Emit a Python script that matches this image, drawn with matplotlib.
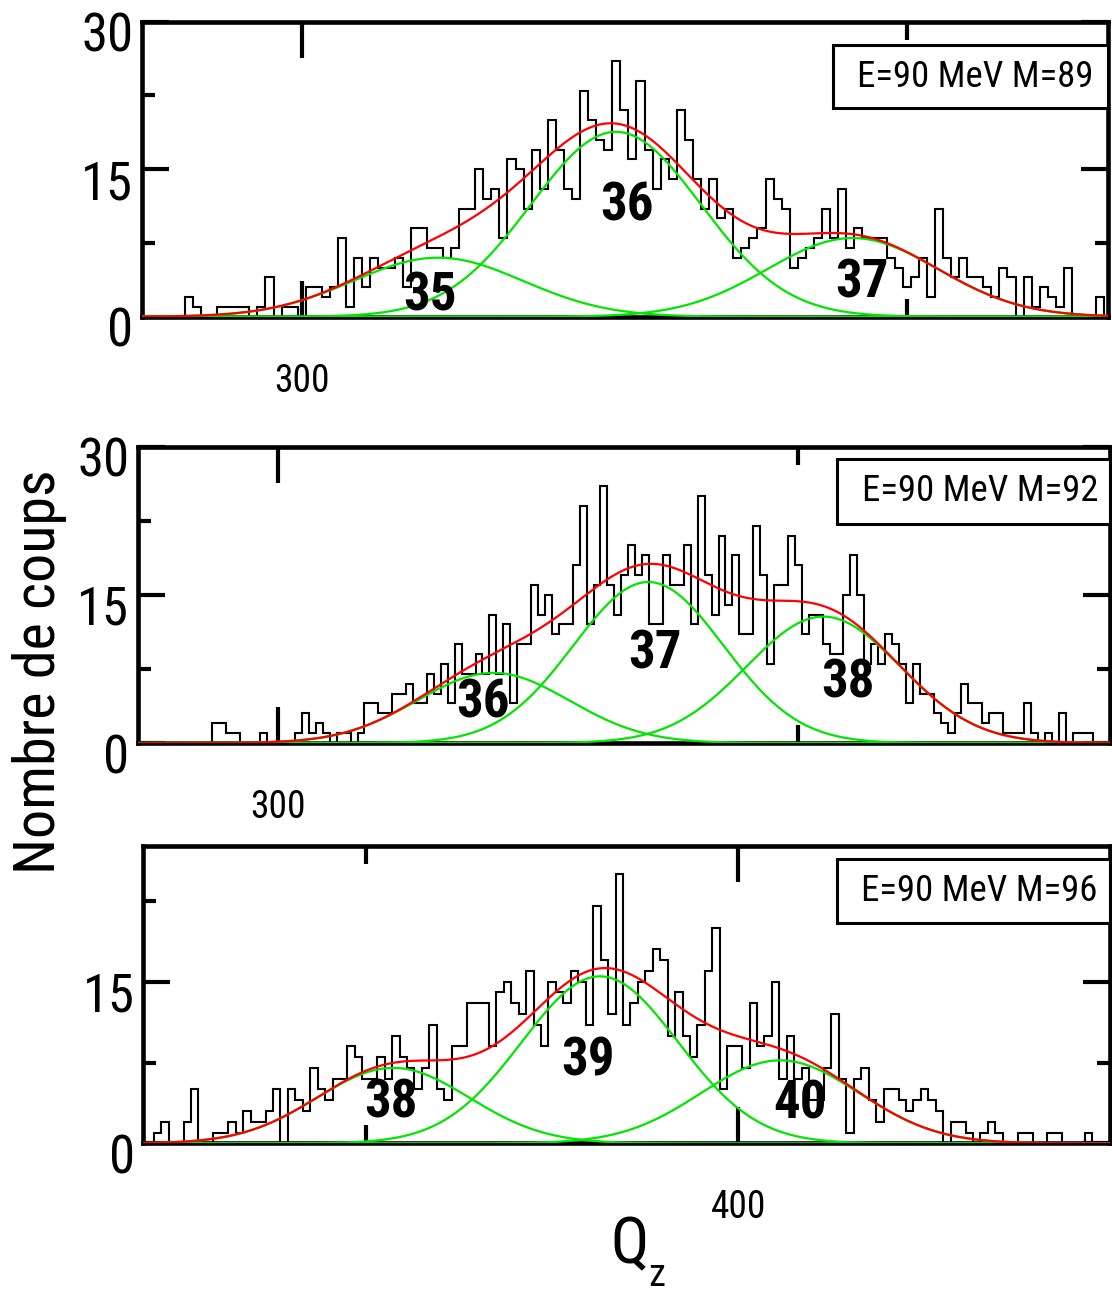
import matplotlib
matplotlib.use('Agg')
import matplotlib.pyplot as plt
import numpy as np
from matplotlib.ticker import MultipleLocator
import matplotlib.transforms as mtransforms
from matplotlib.patches import Rectangle
from matplotlib import font_manager as fm

# ---------------- data ----------------
bin_width = 2.0

p1_start = 271
p1_counts = [2, 1, 0, 0, 1, 1, 1, 1, 0, 1,
             4, 0, 1, 1, 0, 3, 3, 2, 3, 8,
             1, 6, 3, 6, 5, 5, 6, 3, 9, 9,
             7, 7, 6, 7, 11, 11, 15, 12, 13, 8,
             16, 15, 11, 17, 13, 20, 17, 13, 12, 23,
             20, 18, 17, 26, 21, 16, 24, 17, 13, 16,
             14, 21, 18, 14, 11, 14, 10, 11, 6, 7,
             8, 9, 14, 12, 11, 5, 6, 7, 8, 11,
             8, 13, 7, 9, 8, 8, 8, 6, 5, 3,
             4, 6, 2, 11, 6, 4, 6, 4, 4, 3,
             2, 5, 4, 0, 4, 1, 3, 2, 1, 5,
             0, 0, 0, 2]

p2_start = 281
p2_counts = [2, 2, 1, 1, 0, 0, 0, 1, 0, 0,
             0, 0, 1, 3, 1, 2, 1, 0, 1, 1,
             0, 1, 4, 4, 3, 3, 5, 5, 6, 4,
             4, 7, 5, 8, 4, 10, 7, 7, 9, 7,
             13, 7, 12, 4, 10, 10, 16, 13, 15, 11,
             12, 12, 18, 24, 12, 16, 26, 16, 13, 17,
             20, 17, 19, 12, 12, 19, 16, 16, 20, 12,
             25, 17, 13, 21, 14, 19, 11, 11, 22, 17,
             8, 16, 16, 21, 18, 11, 13, 13, 10, 9,
             9, 15, 19, 15, 8, 10, 8, 11, 10, 8,
             4, 8, 5, 5, 3, 2, 1, 3, 6, 4,
             4, 2, 3, 3, 1, 1, 1, 4, 1, 0,
             1, 0, 3, 0, 1, 1, 1]

p3_start = 243
p3_counts = [1, 2, 0, 0, 2, 5, 0, 0, 1, 1,
             2, 1, 3, 2, 2, 3, 5, 0, 5, 4,
             3, 7, 5, 4, 6, 6, 9, 8, 6, 6,
             8, 6, 10, 8, 7, 5, 7, 11, 5, 4,
             9, 9, 13, 13, 13, 9, 14, 15, 13, 12,
             16, 11, 9, 15, 14, 13, 16, 15, 11, 22,
             17, 12, 25, 11, 13, 15, 16, 18, 17, 10,
             14, 10, 8, 11, 16, 20, 5, 9, 9, 7,
             13, 9, 10, 15, 6, 10, 6, 7, 4, 4,
             7, 12, 6, 1, 6, 7, 4, 2, 5, 5,
             4, 3, 4, 5, 4, 3, 0, 2, 2, 1,
             0, 1, 2, 1, 0, 0, 1, 1, 0, 0,
             1, 1, 0, 0, 0, 1]

# gaussian components: centres, amplitudes, widths
p1_centers = [333.8, 377.9, 436.6]
p1_amps = [6.0, 18.8, 8.0]
p1_sigmas = [21.1, 21.1, 21.1]

p2_centers = [362.1, 406.8, 457.2]
p2_amps = [7.1, 16.3, 12.8]
p2_sigmas = [21.9, 21.6, 22.1]

p3_centers = [307.3, 362.8, 411.2]
p3_amps = [7.0, 15.5, 7.7]
p3_sigmas = [20.4, 21.0, 21.2]

p1_labels = ['35', '36', '37']
p2_labels = ['36', '37', '38']
p3_labels = ['38', '39', '40']

p1_title = 'E=90 MeV M=89'
p2_title = 'E=90 MeV M=92'
p3_title = 'E=90 MeV M=96'

y_label = 'Nombre de coups'
x_label_main = 'Q'
x_label_sub = 'z'

# ---------------- fonts ----------------
available = {f.name for f in fm.fontManager.ttflist}
FAM = None
for cand in ['Liberation Sans Narrow', 'Arial Narrow', 'Nimbus Sans Narrow',
             'Roboto Condensed', 'Open Sans Condensed', 'Noto Sans Condensed',
             'DejaVu Sans Condensed', 'Liberation Sans', 'Arial']:
    if cand in available:
        FAM = cand
        break
if FAM is None:
    FAM = 'DejaVu Sans'
plt.rcParams['font.family'] = [FAM, 'DejaVu Sans']

# ---------------- figure ----------------
W, H = 1112, 1293
fig = plt.figure(figsize=(W / 100, H / 100), dpi=100)
fig.patch.set_facecolor('white')
renderer = fig.canvas.get_renderer()


def fit_size(s, target_w, max_size, weight='normal'):
    t = fig.text(0, 0, s, fontsize=100, fontweight=weight)
    w = t.get_window_extent(renderer).width
    t.remove()
    return min(max_size, 100.0 * target_w / w)


size_title = fit_size('E=90 MeV M=89', 236, 28)
size_ytick = fit_size('15', 53, 38)
size_xtick = fit_size('300', 56, 27)
size_num = fit_size('36', 55, 38, weight='bold')
size_ylab = fit_size(y_label, 405, 42)

GREEN = '#00e600'
RED = '#ff0000'


def px_axes(left, top, right, bottom):
    return [left / W, 1 - bottom / H, (right - left) / W, (bottom - top) / H]


panels = [
    dict(rect=px_axes(141.7, 21.7, 1108.3, 316.7), xlim=(260.3, 500.0), ylim=(0, 30),
         start=p1_start, counts=p1_counts, centers=p1_centers, amps=p1_amps, sigmas=p1_sigmas,
         labels=p1_labels, label_pos=[(331.8, 2.1), (380.6, 11.3), (439.0, 3.4)],
         xmajor=300, xminor=150, yticks=[0, 15, 30], title=p1_title,
         box=(0.7155, 0.7064, 0.2145), text_pos=(0.862, 0.811)),
    dict(rect=px_axes(137.5, 446.7, 1110.0, 743.0), xlim=(259.6, 539.8), ylim=(0, 30),
         start=p2_start, counts=p2_counts, centers=p2_centers, amps=p2_amps, sigmas=p2_sigmas,
         labels=p2_labels, label_pos=[(359.2, 4.05), (408.7, 9.0), (464.2, 6.07)],
         xmajor=300, xminor=150, yticks=[0, 15, 30], title=p2_title,
         box=(0.7196, 0.739, 0.2185), text_pos=(0.8668, 0.8515)),
    dict(rect=px_axes(143.0, 846.0, 1110.0, 1143.3), xlim=(240.1, 499.8), ylim=(0, 27.6),
         start=p3_start, counts=p3_counts, centers=p3_centers, amps=p3_amps, sigmas=p3_sigmas,
         labels=p3_labels, label_pos=[(306.7, 3.74), (359.6, 7.64), (416.6, 3.65)],
         xmajor=200, xminor=100, yticks=[0, 15], title=p3_title,
         box=(0.7174, 0.742, 0.2143), text_pos=(0.8645, 0.8497)),
]

for p in panels:
    ax = fig.add_axes(p['rect'])
    counts = np.array(p['counts'], dtype=float)
    edges = p['start'] + bin_width * np.arange(len(counts) + 1)
    ax.stairs(counts, edges, color='black', lw=1.5, zorder=2)

    xs = np.linspace(p['xlim'][0], p['xlim'][1], 800)
    total = np.zeros_like(xs)
    for c, a, s in zip(p['centers'], p['amps'], p['sigmas']):
        g = a * np.exp(-0.5 * ((xs - c) / s) ** 2)
        total += g
        ax.plot(xs, g, color=GREEN, lw=1.6, zorder=3)
    ax.plot(xs, total, color=RED, lw=1.6, zorder=4)

    for lab, (lx, ly) in zip(p['labels'], p['label_pos']):
        ax.text(lx, ly, lab, fontsize=size_num, fontweight='bold', ha='center', va='center',
                zorder=6)

    ax.set_xlim(*p['xlim'])
    ax.set_ylim(*p['ylim'])
    ax.xaxis.set_major_locator(MultipleLocator(p['xmajor']))
    ax.xaxis.set_minor_locator(MultipleLocator(p['xminor']))
    ax.set_yticks(p['yticks'])
    ax.yaxis.set_minor_locator(MultipleLocator(7.5))

    for sp in ax.spines.values():
        sp.set_linewidth(3.3)
    ax.tick_params(axis='both', which='both', direction='in', top=True, right=True,
                   width=3.0, color='black')
    ax.tick_params(axis='x', which='major', length=26, pad=33, labelsize=size_xtick)
    ax.tick_params(axis='x', which='minor', length=13)
    ax.tick_params(axis='y', which='major', length=19.5, pad=6, labelsize=size_ytick)
    ax.tick_params(axis='y', which='minor', length=9.5)

    # legend-like box
    bx, by, bh = p['box']
    ax.add_patch(Rectangle((bx, by), 1.0 - bx, bh, transform=ax.transAxes,
                           facecolor='white', edgecolor='black', lw=2.2, zorder=7,
                           clip_on=False))
    ax.text(p['text_pos'][0], p['text_pos'][1], p['title'], transform=ax.transAxes,
            fontsize=size_title, ha='center', va='center', zorder=8)

    off = mtransforms.ScaledTranslation(0, -0.10, fig.dpi_scale_trans)
    for t in ax.yaxis.get_major_ticks():
        t.label1.set_transform(t.label1.get_transform() + off)

fig.text(40 / W, 1 - 672 / H, y_label, rotation=90, fontsize=size_ylab,
         ha='center', va='center')
fig.text(630 / W, 1 - 1245 / H, x_label_main, fontsize=46, ha='center', va='center')
fig.text(657 / W, 1 - 1276 / H, x_label_sub, fontsize=28, ha='center', va='center')

fig.savefig('out.png', dpi=100, facecolor='white')
